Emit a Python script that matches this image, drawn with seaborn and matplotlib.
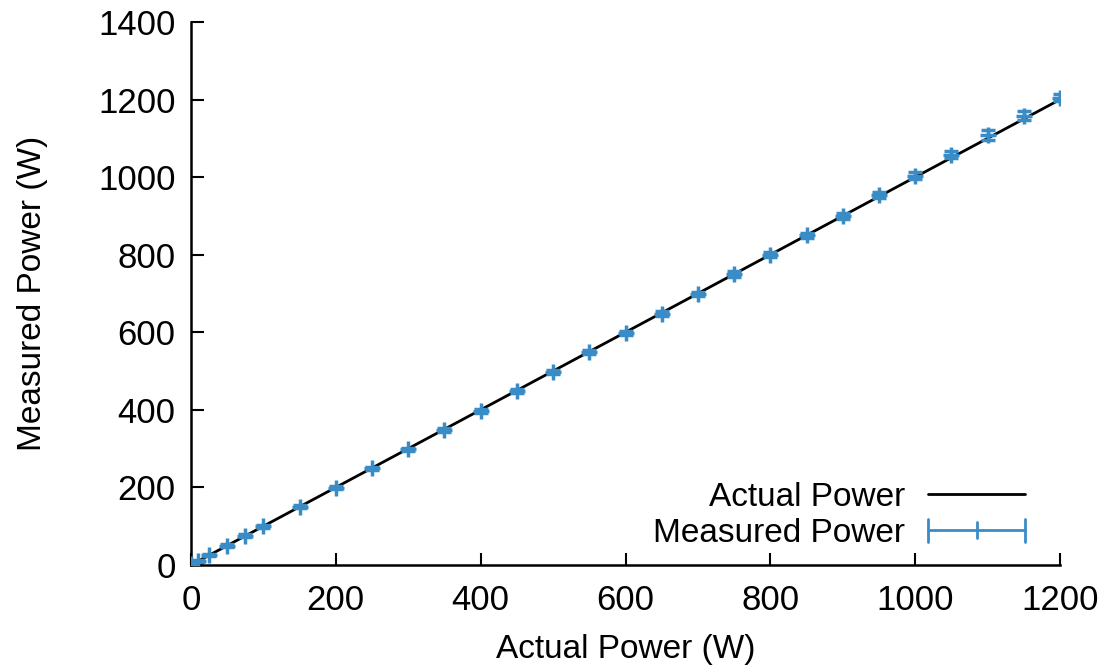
import matplotlib
matplotlib.use('Agg')
import matplotlib.pyplot as plt
import seaborn as sns
import pandas as pd
import numpy as np
from matplotlib.legend_handler import HandlerBase
from matplotlib.lines import Line2D

# 数据
actual = [0, 10, 25, 50, 75, 100, 150, 200, 250, 300, 350, 400, 450, 500, 550,
          600, 650, 700, 750, 800, 850, 900, 950, 1000, 1050, 1100, 1150, 1200]
measured = [2, 10, 26, 50, 75, 100, 150, 199, 249, 298, 348, 398, 448, 497, 548,
            598, 648, 699, 750, 800, 850, 900, 953, 1003, 1058, 1108, 1158, 1205]
err = [3, 3, 3, 4, 4, 4, 4, 4, 4, 4, 5, 5, 5, 5, 5,
       6, 6, 6, 7, 7, 7, 7, 8, 9, 9, 13, 12, 9]

line_x = [0, 1200]
line_y = [0, 1200]

blue = '#3a8cc6'


# 图例里的误差棒：横线 + 两端竖帽 + 中间一个刻度
class HandlerHErr(HandlerBase):
    def create_artists(self, legend, orig_handle, xdescent, ydescent,
                       width, height, fontsize, trans):
        y = height / 2 - ydescent
        cap = fontsize * 0.35
        arts = [Line2D([-xdescent, width - xdescent], [y, y])]
        for xx, h in [(-xdescent, cap), (width - xdescent, cap), (width / 2 - xdescent, cap * 0.7)]:
            arts.append(Line2D([xx, xx], [y - h, y + h]))
        for a in arts:
            a.set_color(blue)
            a.set_linewidth(2)
            a.set_transform(trans)
        return arts


sns.set_style('ticks')
plt.rcParams['font.family'] = ['Liberation Sans', 'DejaVu Sans']
plt.rcParams['text.color'] = 'black'
plt.rcParams['axes.labelcolor'] = 'black'
plt.rcParams['xtick.color'] = 'black'
plt.rcParams['ytick.color'] = 'black'

fig = plt.figure(figsize=(11.07, 6.65), dpi=100)
ax = fig.add_axes([0.1725, 0.1504, 0.7851, 0.8166])

df_line = pd.DataFrame({'x': line_x, 'y': line_y})
sns.lineplot(data=df_line, x='x', y='y', ax=ax, color='black', linewidth=2,
             legend=False, zorder=2)

ax.errorbar(actual, measured, yerr=err, fmt='+', color=blue, ecolor=blue,
            markersize=12, markeredgewidth=2.5, elinewidth=2.5, capsize=5,
            capthick=2.5, zorder=3)

ax.set_xlim(0, 1200)
ax.set_ylim(0, 1400)
ax.set_xticks(np.arange(0, 1201, 200))
ax.set_yticks(np.arange(0, 1401, 200))
ax.tick_params(direction='in', length=9, width=1.5, labelsize=25)
ax.tick_params(axis='x', pad=14)
ax.tick_params(axis='y', pad=11)
for s in ['top', 'right']:
    ax.spines[s].set_visible(False)
for s in ['left', 'bottom']:
    ax.spines[s].set_linewidth(1.8)
    ax.spines[s].set_color('black')

ax.set_xlabel('Actual Power (W)', fontsize=24, labelpad=12)
ax.set_ylabel('Measured Power (W)', fontsize=24, labelpad=36)

h_line = Line2D([], [], color='black', linewidth=2)
h_err = object()
leg = ax.legend([h_line, h_err], ['Actual Power', 'Measured Power'],
                handler_map={object: HandlerHErr()},
                loc='lower right', frameon=False, fontsize=24,
                markerfirst=False, handlelength=2.9, handletextpad=0.7,
                labelspacing=0.15, borderaxespad=0,
                bbox_to_anchor=(0.975, 0.005))

fig.savefig('out.png', dpi=100)
